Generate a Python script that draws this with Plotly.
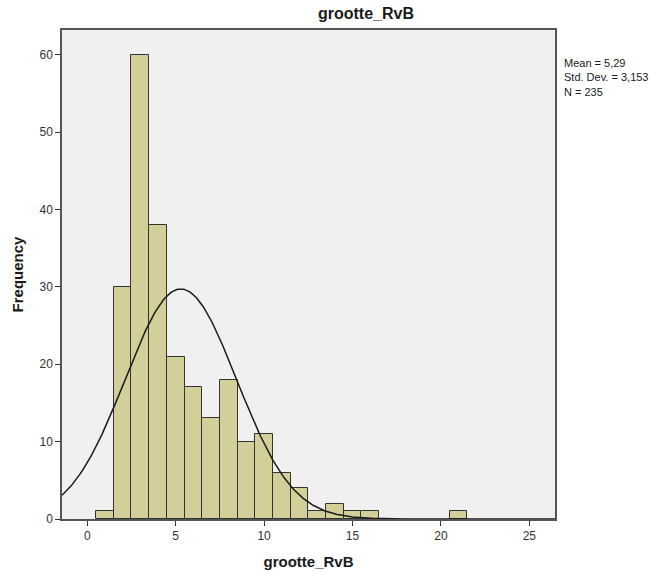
import numpy as np
import plotly.graph_objects as go

# Data
bin_centers = [1, 2, 3, 4, 5, 6, 7, 8, 9, 10, 11, 12, 13, 14, 15, 16, 21]
counts = [1, 30, 60, 38, 21, 17, 13, 18, 10, 11, 6, 4, 1, 2, 1, 1, 1]
mean_val = 5.29
std_val = 3.153
n_val = 235
bin_width = 1.0
x_ticks = [0, 5, 10, 15, 20, 25]
y_ticks = [0, 10, 20, 30, 40, 50, 60]
stats_lines = ["Mean = 5,29", "Std. Dev. = 3,153", "N = 235"]

x_range = [-1.43, 26.45]
y_range = [0, 63.2]

xs = np.linspace(x_range[0], x_range[1], 400)
ys = n_val * bin_width / (std_val * np.sqrt(2 * np.pi)) * np.exp(-0.5 * ((xs - mean_val) / std_val) ** 2)

fig = go.Figure()
fig.add_trace(go.Bar(
    x=bin_centers, y=counts, width=bin_width,
    marker=dict(color="#d3cf98", line=dict(color="#333333", width=1)),
    hoverinfo="x+y", showlegend=False,
))
fig.add_trace(go.Scatter(
    x=xs, y=ys, mode="lines",
    line=dict(color="#1a1a1a", width=1.5),
    showlegend=False, hoverinfo="skip",
))

font_family = "Liberation Sans, Arial, sans-serif"
axis_common = dict(
    showgrid=False, zeroline=False, showline=True, linecolor="#555555", linewidth=1.5,
    mirror=True, ticks="outside", ticklen=5, tickcolor="#333333", tickwidth=1,
    tickfont=dict(family=font_family, size=12, color="#333333"),
)

fig.update_layout(
    width=666, height=579,
    margin=dict(l=62, r=111, t=30, b=60),
    paper_bgcolor="white", plot_bgcolor="#f0f0f0",
    bargap=0,
    title=dict(text="<b>grootte_RvB</b>", x=366 / 666, xanchor="center",
               y=1 - 13 / 579, yanchor="middle",
               font=dict(family=font_family, size=16, color="#1a1a1a")),
    xaxis=dict(range=x_range, tickvals=x_ticks, **axis_common,
               title=dict(text="<b>grootte_RvB</b>", font=dict(family=font_family, size=15, color="#1a1a1a"), standoff=14)),
    yaxis=dict(range=y_range, tickvals=y_ticks, **axis_common,
               title=dict(text="<b>Frequency</b>", font=dict(family=font_family, size=15, color="#1a1a1a"), standoff=12)),
    annotations=[dict(
        x=1.015, y=1 - (55 - 30) / 489, xref="paper", yref="paper", xanchor="left", yanchor="top",
        text="<br>".join(stats_lines),
        showarrow=False, align="left",
        font=dict(family=font_family, size=11, color="#1a1a1a"),
    )],
)

fig.write_html("out.html")
